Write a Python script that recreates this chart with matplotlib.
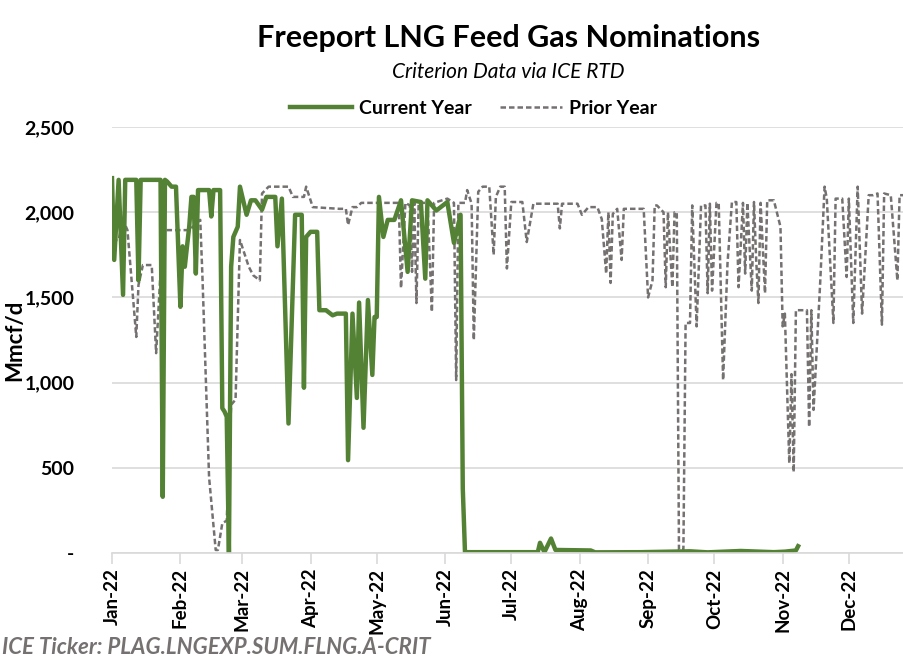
# Freeport LNG feed gas nominations - current year vs prior year
import matplotlib
matplotlib.use('Agg')
import matplotlib.pyplot as plt
import matplotlib.dates as mdates
import matplotlib.ticker as mticker
import pandas as pd

plt.rcParams['font.family'] = ['Lato', 'DejaVu Sans']

# Current year (day of year offset from Jan 1, Mmcf/d)
cur_day = [0, 1, 3, 5, 6, 11, 12, 13, 22, 23, 24, 25, 27, 29, 31, 32, 33, 34, 35,
           36, 37, 38, 39, 44, 45, 46, 49, 50, 51, 52, 53, 54, 55, 57, 58, 61, 63,
           65, 68, 70, 74, 75, 77, 80, 83, 86, 87, 88, 90, 93, 94, 97, 100, 102,
           106, 107, 109, 111, 112, 114, 116, 118, 119, 120, 121, 123, 125, 128,
           131, 134, 136, 140, 142, 143, 147, 152, 155, 158, 159, 160, 193, 194,
           196, 199, 201, 217, 219, 240, 262, 270, 285, 300, 305, 310, 311]
cur_val = [2200, 1720, 2190, 1515, 2190, 2190, 1600, 2190, 2190, 330, 2190, 2180,
           2150, 2150, 1445, 1800, 1680, 1800, 1915, 2090, 2090, 1640, 2130, 2130,
           1975, 2130, 2130, 850, 830, 800, 0, 1680, 1855, 1915, 2150, 1985, 2070,
           2070, 2015, 2090, 2090, 1800, 2080, 760, 1985, 1985, 970, 1855, 1885,
           1885, 1425, 1425, 1395, 1405, 1405, 545, 1405, 910, 1470, 735, 1485,
           1045, 1385, 1385, 2090, 1855, 1955, 1955, 2070, 1650, 2070, 2060, 1610,
           2070, 2010, 2060, 1820, 1985, 380, 5, 5, 60, 5, 85, 18, 15, 4, 5, 10,
           4, 12, 5, 8, 15, 40]

# Prior year
prior_day = [0, 3, 5, 7, 9, 11, 12, 14, 18, 20, 23, 35, 40, 41, 44, 47, 48, 50,
             52, 54, 56, 58, 62, 64, 67, 68, 71, 80, 82, 87, 88, 91, 103, 106, 107,
             109, 111, 113, 120, 130, 131, 133, 135, 136, 137, 138, 139, 140, 143,
             145, 146, 152, 155, 156, 157, 160, 161, 163, 164, 166, 168, 171, 173,
             174, 176, 178, 179, 181, 186, 188, 189, 191, 202, 203, 204, 211, 213,
             216, 220, 222, 224, 225, 226, 227, 229, 231, 232, 241, 243, 245, 246,
             247, 250, 251, 252, 254, 255, 256, 257, 259, 260, 262, 263, 265, 267,
             269, 270, 271, 272, 274, 275, 277, 279, 281, 283, 284, 286, 287, 288,
             290, 291, 292, 293, 294, 296, 297, 300, 303, 304, 305, 307, 308, 309,
             310, 315, 316, 317, 318, 321, 323, 324, 327, 328, 331, 333, 334, 336,
             338, 340, 343, 345, 347, 349, 350, 353, 356, 357, 360]
prior_val = [1837, 1837, 1955, 1895, 1585, 1268, 1573, 1690, 1690, 1173, 1895,
             1895, 1955, 1620, 445, 18, 18, 175, 190, 870, 900, 1837, 1680, 1630,
             1600, 2110, 2150, 2150, 2090, 2090, 2150, 2030, 2020, 2020, 1925, 2030,
             2030, 2055, 2055, 2055, 1555, 2055, 2040, 1650, 2055, 1467, 2055, 2055,
             2055, 1415, 2055, 2080, 2055, 1015, 2055, 2055, 2130, 2050, 1250, 2120,
             2150, 2150, 1750, 2090, 2150, 2150, 1670, 2060, 2060, 1825, 1900, 2050,
             2050, 1905, 2050, 2050, 1985, 2030, 2030, 1960, 1640, 2000, 1585, 1990,
             2020, 1720, 2020, 2020, 1500, 1600, 2040, 2040, 2000, 1560, 2000, 1560,
             2000, 2000, 18, 18, 1350, 1350, 2040, 1330, 2040, 2040, 1525, 2050,
             1540, 2055, 2055, 1015, 1700, 2060, 2060, 1560, 2055, 1640, 2055, 1540,
             2060, 1720, 1467, 2055, 1525, 2070, 2070, 1915, 1330, 1405, 527, 1050,
             475, 1425, 1425, 740, 1425, 840, 1585, 2150, 2080, 1350, 2080, 2080,
             1620, 2080, 1350, 2150, 1405, 2100, 2100, 2110, 1340, 2110, 2100, 1600,
             2100, 2100]

inicio = pd.Timestamp('2022-01-01')
cur_fechas = inicio + pd.to_timedelta(cur_day, unit='D')
prior_fechas = inicio + pd.to_timedelta(prior_day, unit='D')

verde = '#548235'
gris = '#767171'

fig = plt.figure(figsize=(9.04, 6.70), dpi=100)
ax = fig.add_axes([0.1239, 0.1746, 0.8761, 0.6358])

ax.plot(prior_fechas, prior_val, color=gris, lw=1.8, ls=(0, (2.2, 1.2)), label='Prior Year')
ax.plot(cur_fechas, cur_val, color=verde, lw=3.2, label='Current Year', solid_joinstyle='round')

ax.set_ylim(0, 2500)
ax.set_xlim(inicio, inicio + pd.Timedelta(days=359))
ax.yaxis.set_major_locator(mticker.MultipleLocator(500))
ax.yaxis.set_major_formatter(mticker.FuncFormatter(lambda v, p: '-' if v == 0 else f'{int(v):,}'))
ax.grid(axis='y', color='#d9d9d9', lw=1.2)
ax.set_axisbelow(True)

ax.xaxis.set_major_locator(mdates.MonthLocator())
ax.xaxis.set_major_formatter(mdates.DateFormatter('%b-%y'))
for lab in ax.get_xticklabels():
    lab.set_rotation(90)
    lab.set_fontweight('bold')
    lab.set_fontsize(13.5)
for lab in ax.get_yticklabels():
    lab.set_fontweight('bold')
    lab.set_fontsize(14)

for s in ['top', 'right', 'left']:
    ax.spines[s].set_visible(False)
ax.spines['bottom'].set_color('#d9d9d9')
ax.spines['bottom'].set_linewidth(1.2)
ax.tick_params(axis='x', direction='out', length=8, color='#d9d9d9', width=1.2, pad=3)
ax.tick_params(axis='y', length=0, pad=27)

ax.set_ylabel('Mmcf/d', fontsize=16, fontweight='bold')
ax.yaxis.set_label_coords(-0.109, 0.5)

# Titulo, subtitulo y leyenda
fig.text(0.5625, 0.944, 'Freeport LNG Feed Gas Nominations', ha='center', va='center',
         fontsize=22, fontweight='bold')
fig.text(0.5625, 0.893, 'Criterion Data via ICE RTD', ha='center', va='center',
         fontsize=15, style='italic')
handles, labels = ax.get_legend_handles_labels()
fig.legend(handles[::-1], labels[::-1], loc='center', bbox_to_anchor=(0.524, 0.838),
           ncol=2, frameon=False, prop={'weight': 'bold', 'size': 14},
           handlelength=3.2, columnspacing=1.45, handletextpad=0.35)

fig.text(0.002, 0.033, 'ICE Ticker: PLAG.LNGEXP.SUM.FLNG.A-CRIT', ha='left', va='center',
         fontsize=16, style='italic', fontweight='bold', color='#767171')

fig.savefig('out.png', dpi=100)
